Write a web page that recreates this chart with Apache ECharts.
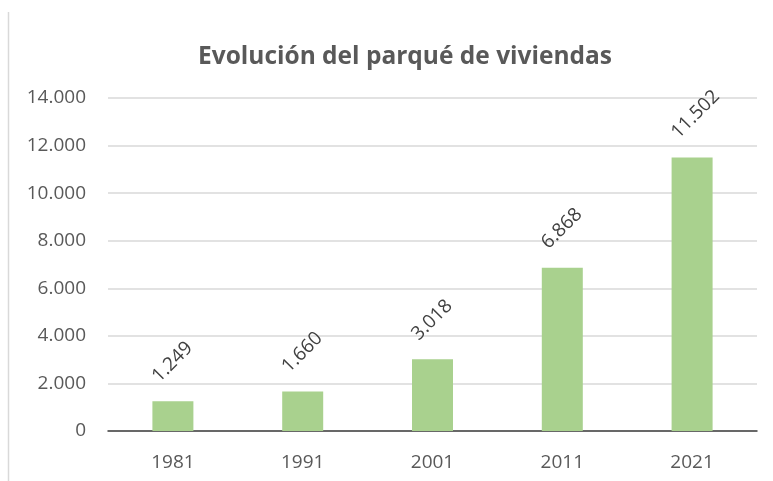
<!DOCTYPE html>
<html>
<head>
<meta charset="utf-8">
<script src="https://cdn.jsdelivr.net/npm/echarts@6/dist/echarts.min.js"></script>
<style>
  html, body { margin: 0; padding: 0; background: #fff; }
  #chart { width: 773px; height: 481px; }
</style>
</head>
<body>
<div id="chart"></div>
<script>
// Parque de viviendas por año censal
const years = ['1981', '1991', '2001', '2011', '2021'];
const dwellings = [1249, 1660, 3018, 6868, 11502];
const titleText = 'Evolución del parqué de viviendas';

const fmt = v => String(v).replace(/\B(?=(\d{3})+(?!\d))/g, '.');

const chart = echarts.init(document.getElementById('chart'), null, { renderer: 'canvas' });
chart.setOption({
  backgroundColor: '#ffffff',
  animation: false,
  title: {
    text: titleText,
    left: 193,
    top: 40,
    textStyle: { fontFamily: 'Open Sans', fontWeight: 'bold', fontSize: 24.5, color: '#595959' }
  },
  grid: { left: 108, right: 16, top: 98, bottom: 50 },
  xAxis: {
    type: 'category',
    data: years,
    axisTick: { show: false },
    axisLine: { lineStyle: { color: '#404040', width: 1.5 } },
    axisLabel: { color: '#595959', fontFamily: 'Open Sans', fontSize: 19, margin: 22 }
  },
  yAxis: {
    type: 'value',
    min: 0, max: 14000, interval: 2000,
    axisLine: { show: false },
    axisTick: { show: false },
    splitLine: { lineStyle: { color: '#D9D9D9', width: 1.5 } },
    axisLabel: { color: '#595959', fontFamily: 'Open Sans', fontSize: 19, margin: 22, formatter: fmt }
  },
  series: [{
    type: 'bar',
    data: dwellings,
    barWidth: 41,
    itemStyle: { color: '#A9D18E' },
    label: {
      show: true,
      position: [3, -22],
      rotate: 45,
      align: 'left',
      verticalAlign: 'middle',
      color: '#404040',
      fontFamily: 'Open Sans',
      fontSize: 19,
      formatter: p => fmt(p.value)
    }
  }],
  graphic: [{
    type: 'line',
    shape: { x1: 8.5, y1: 12, x2: 8.5, y2: 481 },
    style: { stroke: '#D9D9D9', lineWidth: 1.5 },
    silent: true
  }]
});
</script>
</body>
</html>
